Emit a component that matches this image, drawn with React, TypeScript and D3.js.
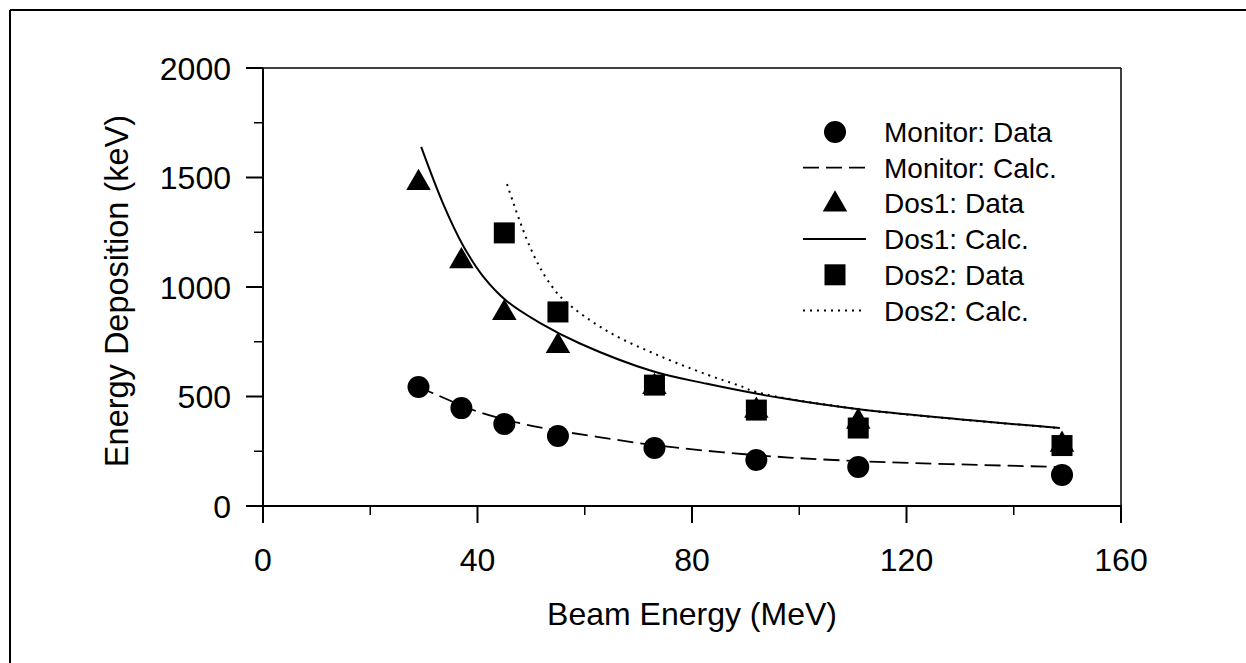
import React from "react";
import * as d3 from "d3";

// ---- data ----
const beamEnergy = [29, 37, 45, 55, 73, 92, 111, 149];
const monitorData = [543, 447, 374, 320, 265, 210, 178, 142];
const dos1Data = [1480, 1123, 886, 735, 548, 440, 390, 285];
const dos2Energy = [45, 55, 73, 92, 111, 149];
const dos2Data = [1247, 886, 552, 438, 356, 276];

const monitorCalcX = [29, 31.7, 39.9, 47.9, 54.5, 62.3, 73, 92, 111, 149];
const monitorCalcY = [543, 515, 432, 378, 346, 316, 278, 232, 205, 178];
const dos1CalcX = [29.5, 33.6, 37.3, 41, 45.5, 51.7, 59.1, 72.7, 82.8, 96.4, 110.8, 148.6];
const dos1CalcY = [1640, 1380, 1190, 1050, 935, 835, 742, 615, 558, 494, 443, 356];
const dos2CalcX = [45.5, 46.6, 47.9, 49.4, 51.3, 53.1, 55.9, 64.1, 73.5, 82.8, 89, 92, 110.8, 148.6];
const dos2CalcY = [1470, 1390, 1300, 1205, 1105, 1030, 945, 800, 690, 600, 548, 520, 443, 356];

const xTicks = [0, 40, 80, 120, 160];
const xMinor = [20, 60, 100, 140];
const yTicks = [0, 500, 1000, 1500, 2000];
const yMinor = [250, 750, 1250, 1750];

const legendLabels = [
  "Monitor: Data",
  "Monitor: Calc.",
  "Dos1: Data",
  "Dos1: Calc.",
  "Dos2: Data",
  "Dos2: Calc.",
];

const FONT = "'Liberation Sans', Arial, Helvetica, sans-serif";

export default function App() {
  const W = 1246, H = 663;
  const x = d3.scaleLinear().domain([0, 160]).range([263, 1121]);
  const y = d3.scaleLinear().domain([0, 2000]).range([506, 68]);
  const [x0, x1] = x.range();
  const [y0, y1] = y.range();

  const line = d3
    .line<[number, number]>()
    .x((d) => x(d[0]))
    .y((d) => y(d[1]))
    .curve(d3.curveCatmullRom.alpha(0.5));

  const zip = (a: number[], b: number[]) => a.map((v, i) => [v, b[i]] as [number, number]);

  const tri = d3.symbol().type(d3.symbolTriangle).size(260)();

  const Circle = ({ cx, cy }: { cx: number; cy: number }) => <circle cx={cx} cy={cy} r={11} fill="#000" />;
  const Tri = ({ cx, cy }: { cx: number; cy: number }) => (
    <path d={tri as string} transform={`translate(${cx},${cy + 1})`} fill="#000" />
  );
  const Sq = ({ cx, cy }: { cx: number; cy: number }) => (
    <rect x={cx - 10.5} y={cy - 10.5} width={21} height={21} fill="#000" />
  );

  const legX = 835;
  const legY0 = 132;
  const legDy = 35.7;

  return (
    <svg
      width={W}
      height={H}
      style={{ position: "absolute", left: 0, top: 0, background: "#fff" }}
      fontFamily={FONT}
    >
      <rect x={0} y={0} width={W} height={H} fill="#fff" />
      {/* outer frame */}
      <line x1={10} y1={10} x2={W} y2={10} stroke="#000" strokeWidth={2} />
      <line x1={10} y1={10} x2={10} y2={H} stroke="#000" strokeWidth={2} />

      {/* plot frame */}
      <line x1={x0} y1={y1} x2={x1} y2={y1} stroke="#000" strokeWidth={1.5} />
      <line x1={x1} y1={y1} x2={x1} y2={y0} stroke="#000" strokeWidth={1.5} />
      <line x1={x0} y1={y0} x2={x1 + 1} y2={y0} stroke="#000" strokeWidth={2} />
      <line x1={x0} y1={y1} x2={x0} y2={y0} stroke="#000" strokeWidth={2} />

      {/* x ticks */}
      {xTicks.map((t) => (
        <g key={"xt" + t}>
          <line x1={x(t)} x2={x(t)} y1={y0} y2={y0 + 17} stroke="#000" strokeWidth={2} />
          <text x={x(t)} y={571} textAnchor="middle" fontSize={32}>
            {t}
          </text>
        </g>
      ))}
      {xMinor.map((t) => (
        <line key={"xm" + t} x1={x(t)} x2={x(t)} y1={y0} y2={y0 + 9} stroke="#000" strokeWidth={1.5} />
      ))}
      {/* y ticks */}
      {yTicks.map((t) => (
        <g key={"yt" + t}>
          <line x1={x0 - 17} x2={x0} y1={y(t)} y2={y(t)} stroke="#000" strokeWidth={2} />
          <text x={231} y={y(t)} dy="0.36em" textAnchor="end" fontSize={32}>
            {t}
          </text>
        </g>
      ))}
      {yMinor.map((t) => (
        <line key={"ym" + t} x1={x0 - 9} x2={x0} y1={y(t)} y2={y(t)} stroke="#000" strokeWidth={1.5} />
      ))}

      {/* axis titles */}
      <text x={(x0 + x1) / 2} y={625} textAnchor="middle" fontSize={32}>
        Beam Energy (MeV)
      </text>
      <text
        transform={`translate(128,${(y0 + y1) / 2 + 4}) rotate(-90)`}
        textAnchor="middle"
        fontSize={32.5}
      >
        Energy Deposition (keV)
      </text>

      {/* calc curves */}
      <path d={line(zip(monitorCalcX, monitorCalcY)) || ""} fill="none" stroke="#000" strokeWidth={1.8} strokeDasharray="16,7" />
      <path d={line(zip(dos1CalcX, dos1CalcY)) || ""} fill="none" stroke="#000" strokeWidth={2} />
      <path d={line(zip(dos2CalcX, dos2CalcY)) || ""} fill="none" stroke="#000" strokeWidth={2} strokeDasharray="2,5" />

      {/* data markers */}
      {beamEnergy.map((e, i) => (
        <Circle key={"m" + i} cx={x(e)} cy={y(monitorData[i])} />
      ))}
      {beamEnergy.map((e, i) => (
        <Tri key={"d1" + i} cx={x(e)} cy={y(dos1Data[i])} />
      ))}
      {dos2Energy.map((e, i) => (
        <Sq key={"d2" + i} cx={x(e)} cy={y(dos2Data[i])} />
      ))}

      {/* legend */}
      {legendLabels.map((lab, i) => {
        const ly = legY0 + i * legDy;
        let sym: React.ReactNode = null;
        if (i === 0) sym = <Circle cx={legX} cy={ly} />;
        if (i === 2) sym = <Tri cx={legX} cy={ly} />;
        if (i === 4) sym = <Sq cx={legX} cy={ly} />;
        if (i === 1)
          sym = <line x1={803} x2={866} y1={ly} y2={ly} stroke="#000" strokeWidth={1.8} strokeDasharray="16,7" />;
        if (i === 3) sym = <line x1={803} x2={866} y1={ly} y2={ly} stroke="#000" strokeWidth={2} />;
        if (i === 5)
          sym = <line x1={803} x2={866} y1={ly} y2={ly} stroke="#000" strokeWidth={2} strokeDasharray="2,5" />;
        return (
          <g key={"lg" + i}>
            {sym}
            <text x={884} y={ly} dy="0.36em" fontSize={28}>
              {lab}
            </text>
          </g>
        );
      })}
    </svg>
  );
}
